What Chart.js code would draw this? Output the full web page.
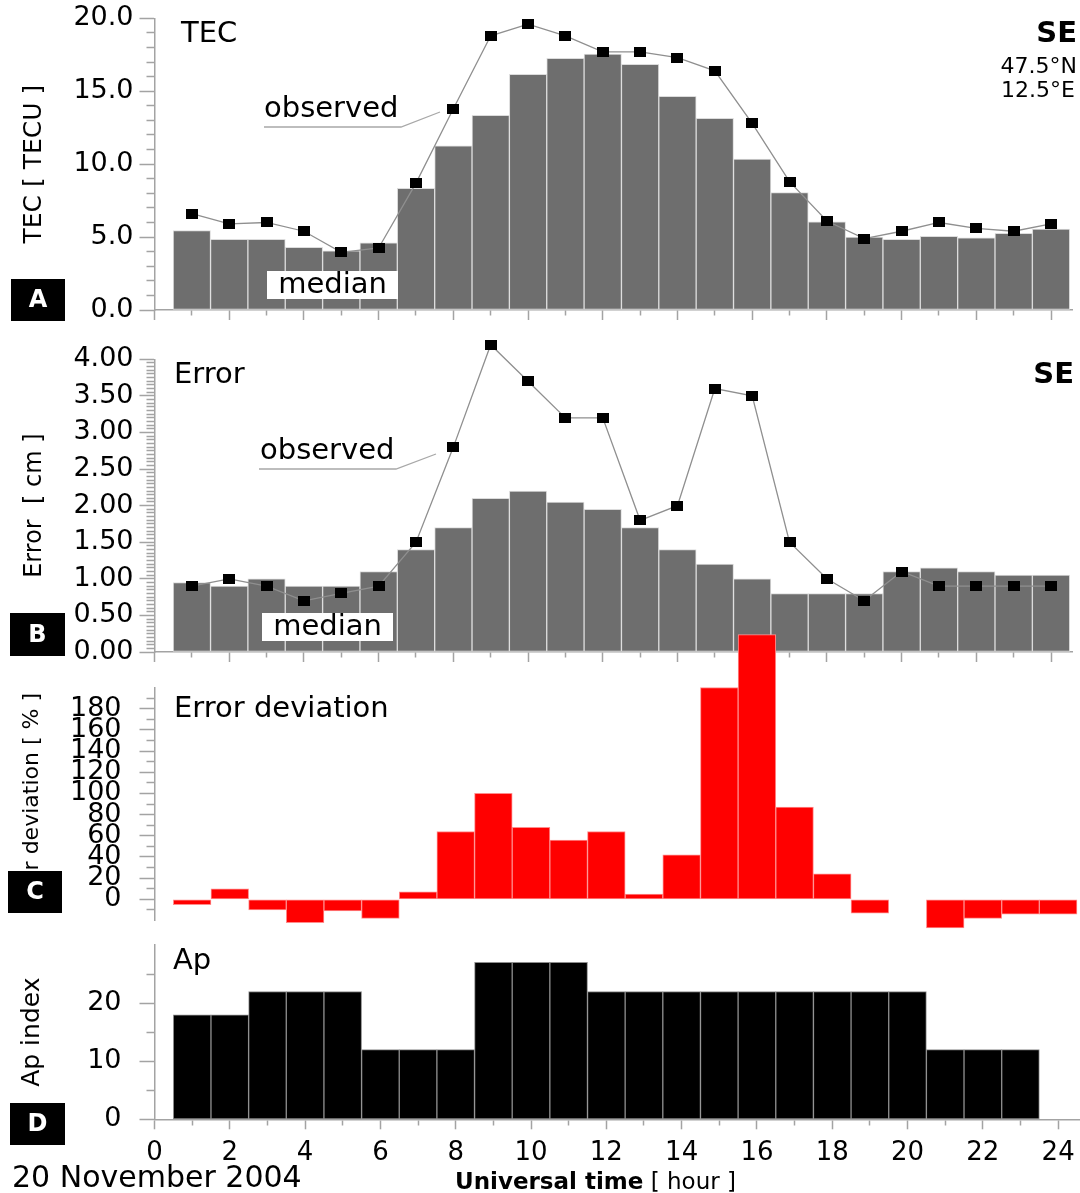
<!DOCTYPE html>
<html lang="en">
<head>
<meta charset="UTF-8">
<title>TEC and error, 20 November 2004</title>
<script src="https://cdn.jsdelivr.net/npm/chart.js"></script>
<style>
  body { margin: 0; background: #fff; }
  #wrap { position: relative; width: 1080px; height: 1193px; overflow: hidden; }
  #wrap canvas { position: absolute; left: 0; }
</style>
</head>
<body>
<div id="wrap">
  <canvas id="panelA" width="1080" height="330" style="top:0px"></canvas>
  <canvas id="panelB" width="1080" height="332" style="top:330px"></canvas>
  <canvas id="panelC" width="1080" height="310" style="top:625px"></canvas>
  <canvas id="panelD" width="1080" height="263" style="top:930px"></canvas>
</div>
<script>
// hourly values, UT hours 1..24
const hours = [1, 2, 3, 4, 5, 6, 7, 8, 9, 10, 11, 12, 13, 14, 15, 16, 17, 18, 19, 20, 21, 22, 23, 24];

const tecMedian   = [5.45, 4.85, 4.85, 4.3, 4.05, 4.6, 8.35, 11.25, 13.35, 16.15, 17.25, 17.55,
                     16.85, 14.65, 13.15, 10.35, 8.05, 6.05, 5.0, 4.85, 5.05, 4.95, 5.25, 5.55];
const tecObserved = [6.6, 5.9, 6.0, 5.4, 3.95, 4.25, 8.7, 13.8, 18.8, 19.6, 18.8, 17.7,
                     17.7, 17.3, 16.4, 12.8, 8.8, 6.1, 4.9, 5.4, 6.0, 5.6, 5.4, 5.9];

const errMedian   = [0.95, 0.9, 1.0, 0.9, 0.9, 1.1, 1.4, 1.7, 2.1, 2.2, 2.05, 1.95,
                     1.7, 1.4, 1.2, 1.0, 0.8, 0.8, 0.8, 1.1, 1.15, 1.1, 1.05, 1.05];
const errObserved = [0.9, 1.0, 0.9, 0.7, 0.8, 0.9, 1.5, 2.8, 4.2, 3.7, 3.2, 3.2,
                     1.8, 2.0, 3.6, 3.5, 1.5, 1.0, 0.7, 1.1, 0.9, 0.9, 0.9, 0.9];

const errDeviation = [-5, 10, -10, -22, -11, -18, 7, 64, 100, 68, 56, 64,
                      5, 42, 200, 250, 87, 24, -13, 0, -27, -18, -14, -14];

const apIndex = [18, 18, 22, 22, 22, 12, 12, 12, 27, 27, 27, 22,
                 22, 22, 22, 22, 22, 22, 22, 22, 12, 12, 12, null];

// labelled tick values for each axis
const hourLabels = [0, 2, 4, 6, 8, 10, 12, 14, 16, 18, 20, 22, 24];
const tecLabels = [0, 5, 10, 15, 20];
const errLabels = [0, 0.5, 1, 1.5, 2, 2.5, 3, 3.5, 4];
const devLabels = [0, 20, 40, 60, 80, 100, 120, 140, 160, 180];
const apLabels = [0, 10, 20];

const FONT = "'DejaVu Sans', sans-serif";
const AXIS = '#a3a3a3';
Chart.defaults.font.family = FONT;
Chart.defaults.color = '#000';

// every step gets a tick, the labelled ones are "major"
function tickList(from, to, step, labels) {
  const out = [];
  for (let i = 0; ; i++) {
    const v = Math.round((from + i * step) * 1000) / 1000;
    if (v > to + 1e-9) break;
    out.push({ value: v, major: labels.some(l => Math.abs(l - v) < 1e-6) });
  }
  return out;
}

function pairs(xs, ys) {
  return xs.map((x, i) => ({ x: x, y: ys[i] }));
}

// black square marker for the observed series
const marker = document.createElement('canvas');
marker.width = 12;
marker.height = 10;
const mctx = marker.getContext('2d');
mctx.fillStyle = '#000';
mctx.fillRect(0, 0, 12, 10);

// text, boxes and leader lines on top of each panel (page coordinates)
function annotate(top, notes) {
  return {
    id: 'annotate',
    afterDatasetsDraw(chart) {
      // markers that sit above the axis top still get drawn
      const area = chart.chartArea;
      const whole = { left: 0, top: 0, right: chart.width, bottom: chart.height };
      chart.data.datasets.forEach((ds, i) => {
        if (ds.type !== 'line') return;
        chart.getDatasetMeta(i).data.forEach(pt => {
          if (pt.y < area.top || pt.y > area.bottom) pt.draw(chart.ctx, whole);
        });
      });
    },
    afterDraw(chart) {
      const ctx = chart.ctx;
      ctx.save();
      ctx.translate(0, -top);
      notes.forEach(n => {
        if (n.kind === 'text') {
          ctx.font = (n.bold ? 'bold ' : '') + (n.size || 28) + 'px ' + FONT;
          ctx.fillStyle = '#000';
          ctx.textAlign = n.align || 'left';
          ctx.textBaseline = 'alphabetic';
          ctx.fillText(n.t, n.x, n.y);
        } else if (n.kind === 'white') {
          ctx.fillStyle = '#fff';
          ctx.fillRect(n.x0, n.y0, n.x1 - n.x0, n.y1 - n.y0);
        } else if (n.kind === 'path') {
          ctx.strokeStyle = '#a8a8a8';
          ctx.lineWidth = 1.3;
          ctx.beginPath();
          n.pts.forEach((p, i) => i ? ctx.lineTo(p[0], p[1]) : ctx.moveTo(p[0], p[1]));
          ctx.stroke();
        } else if (n.kind === 'letter') {
          ctx.fillStyle = '#000';
          ctx.fillRect(n.x0, n.y0, n.x1 - n.x0, n.y1 - n.y0);
          ctx.fillStyle = '#fff';
          ctx.font = 'bold 24px ' + FONT;
          ctx.textAlign = 'center';
          ctx.textBaseline = 'middle';
          ctx.fillText(n.t, (n.x0 + n.x1) / 2, (n.y0 + n.y1) / 2 + 1);
        } else if (n.kind === 'runs') {
          let x = n.x;
          ctx.fillStyle = '#000';
          ctx.textAlign = 'left';
          ctx.textBaseline = 'alphabetic';
          n.parts.forEach(p => {
            ctx.font = (p.bold ? 'bold ' : '') + n.size + 'px ' + FONT;
            ctx.fillText(p.t, x, n.y);
            x += ctx.measureText(p.t).width;
          });
        }
      });
      ctx.restore();
    }
  };
}

const xTicks = tickList(0, 24, 1, hourLabels);

function makePanel(id, p) {
  const yTicks = tickList(p.tickFrom, p.tickTo, p.step, p.labels);
  return new Chart(document.getElementById(id), {
    type: 'bar',
    data: { datasets: p.datasets },
    options: {
      responsive: false,
      animation: false,
      devicePixelRatio: 1,
      layout: { padding: { top: p.padTop, bottom: p.padBottom || 0, left: 0, right: 0 } },
      plugins: { legend: { display: false }, tooltip: { enabled: false } },
      scales: {
        x: {
          type: 'linear',
          min: 0,
          max: 24.58,
          offset: false,
          display: p.showX,
          afterBuildTicks: s => { s.ticks = xTicks.map(t => ({ value: t.value, major: t.major })); },
          afterFit: s => {
            s.height = p.showX ? p.xHeight : 0;
            s.paddingLeft = 0;
            s.paddingRight = 0;
          },
          border: { color: AXIS, width: 1.5 },
          grid: {
            offset: false,
            drawOnChartArea: false,
            tickLength: 10,
            tickColor: AXIS,
            tickWidth: 1.5,
            tickBorderDash: c => (c.tick && !c.tick.major) ? [5, 30] : []
          },
          ticks: {
            display: !!p.xLabels,
            autoSkip: false,
            maxRotation: 0,
            padding: 8,
            font: { size: 26 },
            callback: (v, i, t) => t[i].major ? String(v) : ''
          }
        },
        y: {
          min: p.yMin,
          max: p.yMax,
          afterBuildTicks: s => { s.ticks = yTicks.map(t => ({ value: t.value, major: t.major })); },
          afterFit: s => {
            // the panel padding already leaves room for the end labels
            s.width = 154.5;
            s.paddingTop = 0;
            s.paddingBottom = 0;
          },
          border: { color: AXIS, width: 1.5 },
          grid: {
            drawOnChartArea: false,
            tickLength: 15,
            tickColor: AXIS,
            tickWidth: 1.5,
            tickBorderDash: c => (c.tick && !c.tick.major) ? [0, 7, 8, 30] : []
          },
          ticks: {
            autoSkip: false,
            padding: p.yPad,
            font: { size: 27 },
            callback: (v, i, t) => t[i].major ? p.fmt(v) : ''
          },
          title: {
            display: true,
            text: p.title,
            font: { size: p.titleSize },
            padding: { top: p.titleGap, bottom: 0 }
          }
        }
      }
    },
    plugins: [annotate(p.top, p.notes)]
  });
}

function observedLine(values) {
  return {
    type: 'line',
    data: pairs(hours, values),
    borderColor: '#8f8f8f',
    borderWidth: 1.3,
    tension: 0,
    pointStyle: marker,
    pointRadius: 6,
    pointHoverRadius: 6,
    clip: false,
    order: 0
  };
}

function hourBars(values, fill, edge) {
  return {
    type: 'bar',
    data: pairs(hours, values),
    backgroundColor: fill,
    borderColor: edge,
    borderWidth: 1,
    borderSkipped: false,
    categoryPercentage: 1,
    barPercentage: 1,
    clip: false,
    order: 1
  };
}

makePanel('panelA', {
  top: 0, padTop: 18.3, xHeight: 20, showX: true,
  yMin: 0, yMax: 20, tickFrom: 0, tickTo: 20, step: 1, labels: tecLabels,
  fmt: v => v.toFixed(1), yPad: 6,
  title: 'TEC [ TECU ]', titleSize: 25, titleGap: 19,
  datasets: [observedLine(tecObserved), hourBars(tecMedian, '#6e6e6e', '#dcdcdc')],
  notes: [
    { kind: 'text', t: 'TEC', x: 181, y: 42, size: 29 },
    { kind: 'text', t: 'observed', x: 264, y: 117, size: 29 },
    { kind: 'path', pts: [[264, 127], [401, 127], [440, 112]] },
    { kind: 'white', x0: 267, y0: 271, x1: 398, y1: 299 },
    { kind: 'text', t: 'median', x: 332.5, y: 293, align: 'center', size: 29 },
    { kind: 'text', t: 'SE', x: 1077, y: 42, bold: true, size: 29, align: 'right' },
    { kind: 'text', t: '47.5°N', x: 1077, y: 73, size: 22, align: 'right' },
    { kind: 'text', t: '12.5°E', x: 1075, y: 97, size: 22, align: 'right' },
    { kind: 'letter', t: 'A', x0: 11, y0: 279, x1: 65, y1: 321 }
  ]
});

makePanel('panelB', {
  top: 330, padTop: 29.3, xHeight: 10, showX: true,
  yMin: 0, yMax: 4, tickFrom: 0, tickTo: 4, step: 0.05, labels: errLabels,
  fmt: v => v.toFixed(2), yPad: 6,
  title: 'Error  [ cm ]', titleSize: 24, titleGap: 20,
  datasets: [observedLine(errObserved), hourBars(errMedian, '#6e6e6e', '#dcdcdc')],
  notes: [
    { kind: 'text', t: 'Error', x: 174, y: 383, size: 29 },
    { kind: 'text', t: 'observed', x: 260, y: 459, size: 29 },
    { kind: 'path', pts: [[259, 469], [396, 469], [436, 454]] },
    { kind: 'white', x0: 262, y0: 613, x1: 393, y1: 641 },
    { kind: 'text', t: 'median', x: 327.5, y: 635, align: 'center', size: 29 },
    { kind: 'text', t: 'SE', x: 1074, y: 383, bold: true, size: 29, align: 'right' },
    { kind: 'letter', t: 'B', x0: 10, y0: 613, x1: 65, y1: 656 }
  ]
});

makePanel('panelC', {
  top: 625, padTop: 62.5, padBottom: 14.5, showX: false,
  yMin: -20, yMax: 200, tickFrom: -10, tickTo: 190, step: 10, labels: devLabels,
  fmt: v => String(v), yPad: 18,
  title: 'Error deviation [ % ]', titleSize: 22, titleGap: 19,
  datasets: [hourBars(errDeviation, '#ff0000', '#ff8c8c')],
  notes: [
    { kind: 'text', t: 'Error deviation', x: 174, y: 717, size: 29 },
    { kind: 'letter', t: 'C', x0: 8, y0: 871, x1: 62, y1: 913 }
  ]
});

makePanel('panelD', {
  top: 930, padTop: 15, xHeight: 73.7, showX: true, xLabels: true,
  yMin: 0, yMax: 30, tickFrom: 0, tickTo: 25, step: 5, labels: apLabels,
  fmt: v => String(v), yPad: 18,
  title: 'Ap index', titleSize: 25, titleGap: 17,
  datasets: [hourBars(apIndex, '#000', '#8c8c8c')],
  notes: [
    { kind: 'text', t: 'Ap', x: 173, y: 969, size: 29 },
    { kind: 'letter', t: 'D', x0: 10, y0: 1103, x1: 65, y1: 1145 },
    { kind: 'text', t: '20 November 2004', x: 12, y: 1187, size: 30 },
    { kind: 'runs', x: 455, y: 1189, size: 23,
      parts: [{ t: 'Universal time', bold: true }, { t: ' [ hour ]', bold: false }] }
  ]
});
</script>
</body>
</html>
